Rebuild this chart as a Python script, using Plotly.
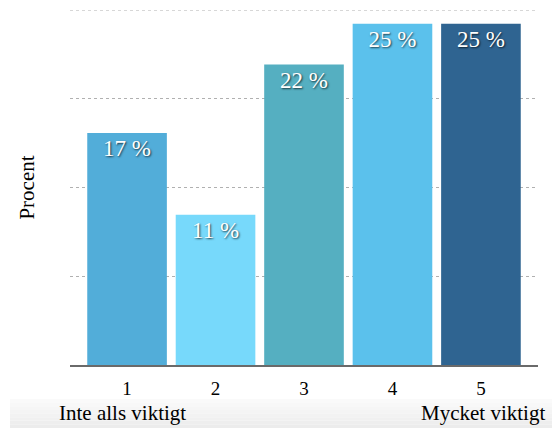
import plotly.graph_objects as go

categories = ["1", "2", "3", "4", "5"]
values = [17, 11, 22, 25, 25]
labels = ["17 %", "11 %", "22 %", "25 %", "25 %"]
colors = ["#52ADD9", "#77D9FB", "#55AFC1", "#5BC1EC", "#2F6491"]
grid_ticks = [0, 6.5, 13, 19.5, 26]
left_note = "Inte alls viktigt"
right_note = "Mycket viktigt"

SERIF = "Liberation Serif"
W, H = 552, 430
L, R, T, B = 70, 14, 10, 65
PW, PH = W - L - R, H - T - B


def py(pix):
    return -(pix - (H - B)) / PH


def px(pix):
    return (pix - L) / PW


fig = go.Figure()
fig.add_trace(go.Bar(
    x=categories, y=values, marker=dict(color=colors, line=dict(width=0)),
    text=labels, textposition="inside", insidetextanchor="end", textangle=0,
    textfont=dict(family=SERIF, size=23, color="white",
                  shadow="1px 1px 2px rgba(0,0,0,0.7)"),
    hoverinfo="skip", showlegend=False, cliponaxis=False,
))

shapes = []
band_top, band_bot = 399, 428
steps = 8
for i in range(steps):
    y0 = band_top + (band_bot - band_top) * i / steps
    y1 = band_top + (band_bot - band_top) * (i + 1) / steps
    c = int(250 - 14 * i / (steps - 1))
    shapes.append(dict(type="rect", xref="paper", yref="paper",
                       x0=px(10), x1=px(W), y0=py(y1), y1=py(y0),
                       fillcolor=f"rgb({c},{c},{c})", line=dict(width=0), layer="below"))
shapes.append(dict(type="line", xref="paper", yref="y", x0=0, x1=1, y0=grid_ticks[-1], y1=grid_ticks[-1],
                   line=dict(color="#b0b0b0", width=1, dash="dot"), layer="below"))

fig.update_layout(
    width=W, height=H, margin=dict(l=L, r=R, t=T, b=B),
    paper_bgcolor="white", plot_bgcolor="white",
    bargap=0.1,
    shapes=shapes,
    xaxis=dict(range=[-0.645, 4.645], showgrid=False, showline=True, linecolor="#6a6a6a",
               linewidth=2, ticks="", tickfont=dict(family=SERIF, size=19, color="black"),
               ticklabelstandoff=5, fixedrange=True),
    yaxis=dict(range=[0, 26], tickvals=grid_ticks, showticklabels=False, showgrid=True,
               gridcolor="#b0b0b0", griddash="dot", gridwidth=1, zeroline=False,
               title=dict(text="Procent", font=dict(family=SERIF, size=21, color="black"),
                          standoff=28),
               fixedrange=True),
    annotations=[
        dict(text=left_note, xref="paper", yref="paper", x=px(57), y=py(413),
             xanchor="left", yanchor="middle", showarrow=False,
             font=dict(family=SERIF, size=21, color="black")),
        dict(text=right_note, xref="paper", yref="paper", x=px(547), y=py(413),
             xanchor="right", yanchor="middle", showarrow=False,
             font=dict(family=SERIF, size=21, color="black")),
    ],
)
fig.write_html("out.html")
